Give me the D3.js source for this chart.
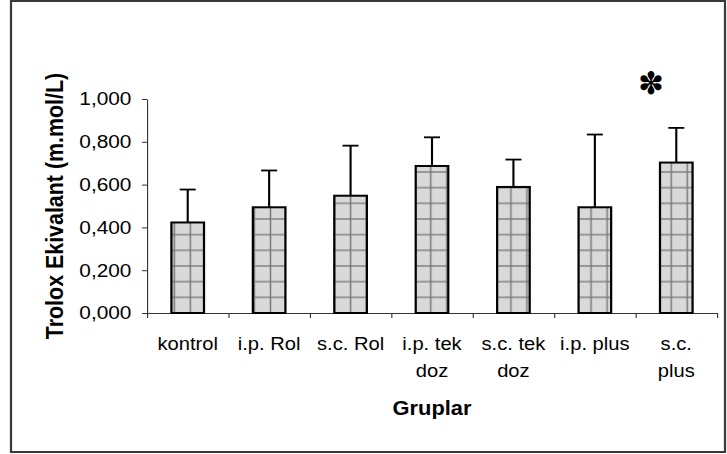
<!DOCTYPE html>
<html>
<head>
<meta charset="utf-8">
<script src="https://cdn.jsdelivr.net/npm/d3@7"></script>
<style>
  html, body { margin: 0; padding: 0; background: #fff; }
  svg { display: block; }
  text { font-family: "Liberation Sans", Arial, sans-serif; fill: #000; }
</style>
</head>
<body>
<svg id="chart"></svg>
<script>
// groupes (une ligne par élément du tableau)
const categoryLines = [["kontrol"], ["i.p. Rol"], ["s.c. Rol"], ["i.p. tek", "doz"], ["s.c. tek", "doz"], ["i.p. plus"], ["s.c.", "plus"]];
const categories = categoryLines.map(l => l.join(" "));
// moyennes et écarts-types
const means = [0.423, 0.494, 0.548, 0.687, 0.589, 0.494, 0.703];
const sds = [0.154, 0.172, 0.234, 0.134, 0.128, 0.340, 0.162];
const yTicks = [0, 0.2, 0.4, 0.6, 0.8, 1.0];
const starGroup = "s.c. plus";

const width = 727;
const height = 454;
const sx = 1.12; // l'image d'origine est étirée horizontalement
const W = width / sx;

const svg = d3.select("#chart")
    .attr("width", width)
    .attr("height", height)
    .attr("viewBox", `0 0 ${W} ${height}`)
    .attr("preserveAspectRatio", "none");

// cadre
svg.append("rect")
    .attr("x", 11 / sx).attr("y", 1)
    .attr("width", 714 / sx).attr("height", 451)
    .attr("fill", "none")
    .attr("stroke", "#3a3a3a")
    .attr("stroke-width", 2);

const x0 = 147 / sx, x1 = 717 / sx;
const x = d3.scaleBand().domain(categories).range([x0, x1]).padding(0);
const y = d3.scaleLinear().domain([0, 1]).range([313, 99]);
const fmt = d3.formatLocale({ decimal: ",", thousands: ".", grouping: [3], currency: ["", ""] }).format(".3f");

// motif quadrillé des barres
const pw = 16.03 / sx, ph = 15.67;
const pat = svg.append("defs").append("pattern")
    .attr("id", "grid")
    .attr("patternUnits", "userSpaceOnUse")
    .attr("x", 174.3 / sx - pw / 2)
    .attr("y", 313 - ph / 2)
    .attr("width", pw)
    .attr("height", ph);
pat.append("rect").attr("width", pw).attr("height", ph).attr("fill", "#d9d9d9");
pat.append("line").attr("x1", pw / 2).attr("x2", pw / 2).attr("y1", 0).attr("y2", ph)
    .attr("stroke", "#767676").attr("stroke-width", 1.3);
pat.append("line").attr("x1", 0).attr("x2", pw).attr("y1", ph / 2).attr("y2", ph / 2)
    .attr("stroke", "#767676").attr("stroke-width", 1.3);

// axe y
const yAxis = svg.append("g")
    .attr("transform", `translate(${x0},0)`)
    .call(d3.axisLeft(y).tickValues(yTicks).tickFormat(fmt).tickSize(4.5).tickSizeOuter(0).tickPadding(9.4));
yAxis.selectAll("text").attr("font-size", 18.6);
yAxis.selectAll("path, line").attr("stroke", "#333").attr("stroke-width", 1);

// axe x : traits aux limites des groupes
const xb = d3.scaleLinear().domain([0, categories.length]).range([x0, x1]);
const xAxis = svg.append("g")
    .attr("transform", `translate(0,${y(0)})`)
    .call(d3.axisBottom(xb).tickValues(d3.range(categories.length + 1)).tickFormat("").tickSize(5).tickSizeOuter(0));
xAxis.selectAll("path, line").attr("stroke", "#333").attr("stroke-width", 1);

const data = categories.map((c, i) => ({ c, lines: categoryLines[i], m: means[i], sd: sds[i] }));
const bw = x.bandwidth() * 0.4;
const cx = d => x(d.c) + x.bandwidth() / 2;

// barres
svg.selectAll(".bar")
    .data(data)
    .enter().append("rect")
    .attr("class", "bar")
    .attr("x", d => cx(d) - bw / 2)
    .attr("y", d => y(d.m))
    .attr("width", bw)
    .attr("height", d => y(0) - y(d.m))
    .attr("fill", "url(#grid)")
    .attr("stroke", "#000")
    .attr("stroke-width", 2);

// barres d'erreur (vers le haut seulement)
const cap = 14.3;
const err = svg.selectAll(".err").data(data).enter().append("g").attr("class", "err");
err.append("line")
    .attr("x1", cx).attr("x2", cx)
    .attr("y1", d => y(d.m)).attr("y2", d => y(d.m + d.sd))
    .attr("stroke", "#000").attr("stroke-width", 1.9);
err.append("line")
    .attr("x1", d => cx(d) - cap / 2).attr("x2", d => cx(d) + cap / 2)
    .attr("y1", d => y(d.m + d.sd)).attr("y2", d => y(d.m + d.sd))
    .attr("stroke", "#000").attr("stroke-width", 1.8);

// étiquettes des groupes
const lab = svg.selectAll(".lab").data(data).enter().append("text")
    .attr("class", "lab")
    .attr("text-anchor", "middle")
    .attr("font-size", 18);
lab.selectAll("tspan")
    .data(d => d.lines.map(t => ({ t, x: cx(d) })))
    .enter().append("tspan")
    .attr("x", t => t.x)
    .attr("y", (t, i) => 350.5 + i * 26.6)
    .text(t => t.t);

// titres des axes
svg.append("text")
    .attr("x", (x0 + x1) / 2)
    .attr("y", 415)
    .attr("text-anchor", "middle")
    .attr("font-size", 19.5)
    .attr("font-weight", "bold")
    .text("Gruplar");

svg.append("text")
    .attr("transform", `translate(${63 / sx},${(y(0) + y(1)) / 2}) rotate(-90)`)
    .attr("text-anchor", "middle")
    .attr("font-size", 21.4)
    .attr("font-weight", "bold")
    .text("Trolox Ekivalant (m.mol/L)");

// astérisque de signification
svg.append("text")
    .attr("transform", `translate(${x(starGroup) + x.bandwidth() / 2 - 25 / sx},83) scale(${1 / sx},1)`)
    .attr("text-anchor", "middle")
    .attr("dominant-baseline", "central")
    .attr("font-family", "DejaVu Sans")
    .attr("font-size", 31)
    .text("\u273D");
</script>
</body>
</html>
